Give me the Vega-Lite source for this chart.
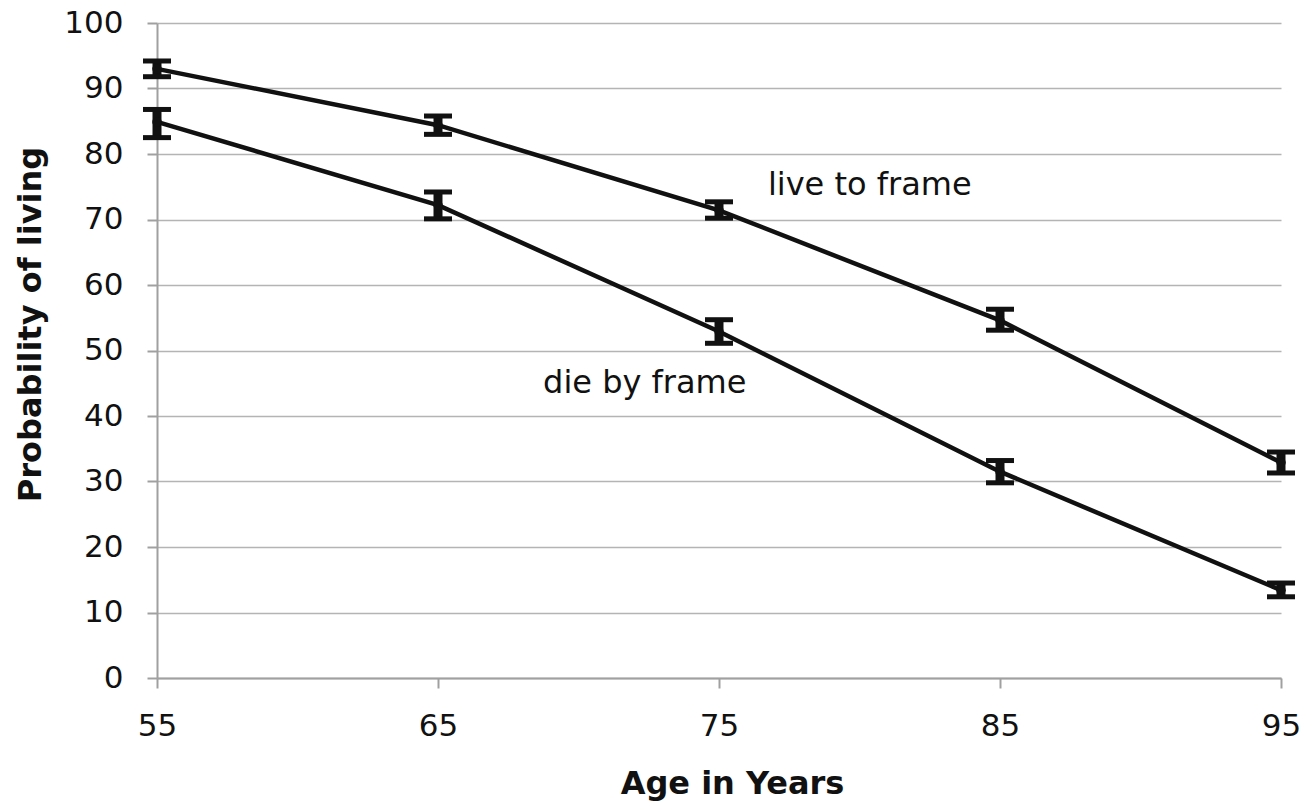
{
  "$schema": "https://vega.github.io/schema/vega-lite/v6.json",
  "width": 1124,
  "height": 655,
  "autosize": "none",
  "padding": {"left": 157, "top": 23, "right": 27, "bottom": 127},
  "background": "white",
  "config": {
    "view": {"stroke": null},
    "font": "DejaVu Sans",
    "axis": {
      "labelFont": "DejaVu Sans",
      "labelFontSize": 31,
      "labelColor": "#111111",
      "labelFlush": false,
      "titleFont": "DejaVu Sans",
      "titleFontSize": 32,
      "titleFontWeight": "bold",
      "titleColor": "#111111",
      "domainColor": "#a0a0a0",
      "domainWidth": 2,
      "tickColor": "#a0a0a0",
      "tickWidth": 2,
      "tickSize": 10,
      "gridColor": "#b4b4b4",
      "gridWidth": 1.5
    }
  },
  "datasets": {
    "pts": [
      {"series": "live to frame", "age": 55, "value": 93.0, "lo": 91.8, "hi": 94.2},
      {"series": "live to frame", "age": 65, "value": 84.4, "lo": 83.0, "hi": 85.8},
      {"series": "live to frame", "age": 75, "value": 71.4, "lo": 70.2, "hi": 72.7},
      {"series": "live to frame", "age": 85, "value": 54.6, "lo": 53.1, "hi": 56.3},
      {"series": "live to frame", "age": 95, "value": 32.9, "lo": 31.3, "hi": 34.5},
      {"series": "die by frame", "age": 55, "value": 84.9, "lo": 82.5, "hi": 86.8},
      {"series": "die by frame", "age": 65, "value": 72.2, "lo": 70.1, "hi": 74.2},
      {"series": "die by frame", "age": 75, "value": 52.9, "lo": 51.1, "hi": 54.7},
      {"series": "die by frame", "age": 85, "value": 31.5, "lo": 29.8, "hi": 33.2},
      {"series": "die by frame", "age": 95, "value": 13.4, "lo": 12.4, "hi": 14.5}
    ],
    "notes": [
      {"label": "live to frame", "age": 76.74, "value": 75.3},
      {"label": "die by frame", "age": 68.74, "value": 45.0}
    ]
  },
  "layer": [
    {
      "data": {"name": "pts"},
      "mark": {"type": "line", "color": "#111111", "strokeWidth": 4.5},
      "encoding": {
        "x": {
          "field": "age", "type": "quantitative",
          "scale": {"domain": [55, 95], "nice": false, "zero": false},
          "axis": {"values": [55, 65, 75, 85, 95], "grid": false, "title": "Age in Years", "labelPadding": 23, "titlePadding": 27, "titleX": 575}
        },
        "y": {
          "field": "value", "type": "quantitative",
          "scale": {"domain": [0, 100], "nice": false},
          "axis": {"values": [0, 10, 20, 30, 40, 50, 60, 70, 80, 90, 100], "grid": true, "title": "Probability of living", "labelPadding": 24, "titlePadding": 16, "titleY": 301}
        },
        "detail": {"field": "series"}
      }
    },
    {
      "data": {"name": "pts"},
      "mark": {"type": "rule", "color": "#111111", "strokeWidth": 9},
      "encoding": {
        "x": {"field": "age", "type": "quantitative"},
        "y": {"field": "lo", "type": "quantitative"},
        "y2": {"field": "hi"}
      }
    },
    {
      "data": {"name": "pts"},
      "mark": {"type": "tick", "orient": "horizontal", "color": "#111111", "opacity": 1, "size": 28, "thickness": 5},
      "encoding": {
        "x": {"field": "age", "type": "quantitative"},
        "y": {"field": "lo", "type": "quantitative"}
      }
    },
    {
      "data": {"name": "pts"},
      "mark": {"type": "tick", "orient": "horizontal", "color": "#111111", "opacity": 1, "size": 28, "thickness": 5},
      "encoding": {
        "x": {"field": "age", "type": "quantitative"},
        "y": {"field": "hi", "type": "quantitative"}
      }
    },
    {
      "data": {"name": "pts"},
      "mark": {"type": "point", "shape": "circle", "filled": true, "color": "#111111", "opacity": 1, "size": 90},
      "encoding": {
        "x": {"field": "age", "type": "quantitative"},
        "y": {"field": "value", "type": "quantitative"}
      }
    },
    {
      "data": {"name": "notes"},
      "mark": {"type": "text", "align": "left", "baseline": "middle", "fontSize": 32, "font": "DejaVu Sans", "color": "#111111"},
      "encoding": {
        "x": {"field": "age", "type": "quantitative"},
        "y": {"field": "value", "type": "quantitative"},
        "text": {"field": "label"}
      }
    }
  ]
}
